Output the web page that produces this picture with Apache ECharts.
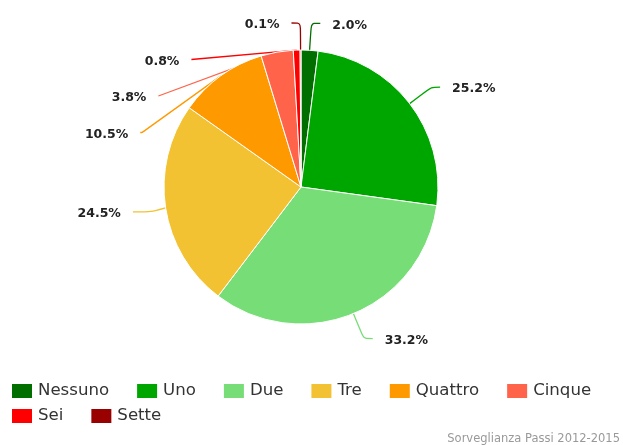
<!DOCTYPE html>
<html>
<head>
<meta charset="utf-8">
<script src="https://cdn.jsdelivr.net/npm/echarts@6/dist/echarts.min.js"></script>
<style>html,body{margin:0;padding:0;background:#fff}#c{width:623px;height:445px}</style>
</head>
<body>
<div id="c"></div>
<script>
var categories = ['Nessuno', 'Uno', 'Due', 'Tre', 'Quattro', 'Cinque', 'Sei', 'Sette'];
var values = [2.0, 25.2, 33.2, 24.5, 10.5, 3.8, 0.8, 0.1];
var colors = ['#006f00', '#00a600', '#77dd77', '#f2c232', '#ff9900', '#ff634a', '#ff0000', '#990000'];
var credit = 'Sorveglianza Passi 2012-2015';

// slice mid-point share decides the connector shape (left side gets longer tails,
// except the hairline slice right at the top)
var total = values.reduce(function (a, b) { return a + b; }, 0);
var acc = 0;
var data = categories.map(function (c, i) {
  var mid = (acc + values[i] / 2) / total;
  acc += values[i];
  var longTail = mid > 0.5 && mid < 0.999;
  return {
    name: c,
    value: values[i],
    itemStyle: { color: colors[i] },
    labelLine: { length2: longTail ? 18 : 9 }
  };
});

var chart = echarts.init(document.getElementById('c'), null, { renderer: 'canvas' });
var legendCommon = {
  orient: 'horizontal',
  left: 10,
  padding: 0,
  icon: 'rect',
  itemWidth: 22,
  itemHeight: 16,
  itemGap: 26,
  textStyle: { fontFamily: 'DejaVu Sans', fontSize: 16.6, color: '#333' }
};
chart.setOption({
  animation: false,
  title: {
    text: credit,
    right: 3,
    top: 433,
    padding: 0,
    textStyle: { fontFamily: 'DejaVu Sans', fontSize: 11.5, fontWeight: 'normal', color: '#999' }
  },
  legend: [
    Object.assign({}, legendCommon, { top: 382, data: categories.slice(0, 6) }),
    Object.assign({}, legendCommon, { top: 407, data: categories.slice(6) })
  ],
  series: [{
    type: 'pie',
    center: [301, 187],
    radius: [0, 137],
    startAngle: 90,
    clockwise: true,
    avoidLabelOverlap: true,
    data: data,
    itemStyle: { borderColor: '#fff', borderWidth: 1 },
    label: {
      show: true,
      position: 'outside',
      formatter: function (p) { return p.value.toFixed(1) + '%'; },
      fontFamily: 'DejaVu Sans',
      fontSize: 12.5,
      fontWeight: 'bold',
      color: '#222',
      lineHeight: 34.5,
      distanceToLabelLine: 12
    },
    labelLayout: function () { return { dy: 2 }; },
    labelLine: {
      show: true,
      length: 27,
      smooth: 0.25,
      lineStyle: { width: 1.3 }
    }
  }]
});
</script>
</body>
</html>
